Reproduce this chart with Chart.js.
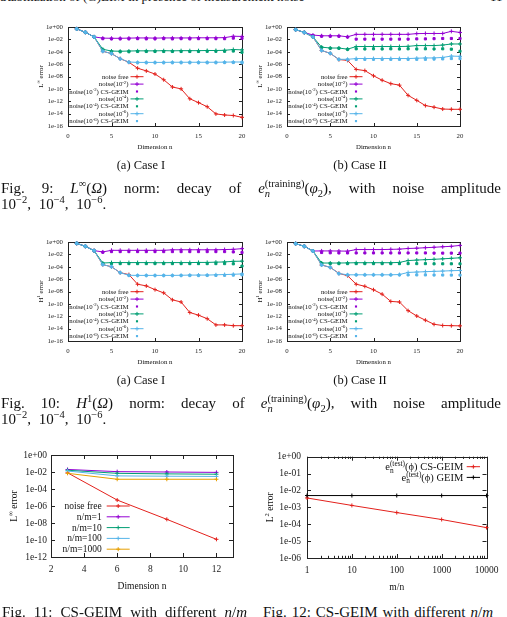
<!DOCTYPE html>
<html>
<head>
<meta charset="utf-8">
<script src="https://cdn.jsdelivr.net/npm/chart.js"></script>
<style>
html, body { margin: 0; padding: 0; background: #fff; }
body { width: 507px; height: 617px; position: relative; overflow: hidden; font-family: "Liberation Serif", serif; color: #111; }
.box { position: absolute; }
.txt { position: absolute; white-space: nowrap; line-height: 1; }
.cap { position: absolute; font-size: 15px; line-height: 15px; text-align: justify; text-align-last: justify; }
.cap2 { position: absolute; font-size: 15px; line-height: 15px; white-space: nowrap; word-spacing: 4px; }
.sub { position: absolute; font-size: 12.5px; line-height: 12.5px; width: 100px; text-align: center; }
sup { font-size: 0.7em; vertical-align: 0.55em; line-height: 0; }
sub { font-size: 0.7em; vertical-align: -0.35em; line-height: 0; }
sup.st { margin-left: -0.5em; }
</style>
</head>
<body>
<div class="txt" style="left:0; top:-10.5px; font-size:13px;">Stabilization of (G)EIM in presence of measurement noise</div>
<div class="txt" style="left:490px; top:-10.5px; font-size:13px;">11</div>

<div class="box" style="left:25px; top:17px;"><canvas id="c1" width="230" height="145"></canvas></div>
<div class="box" style="left:245px; top:17px;"><canvas id="c2" width="230" height="145"></canvas></div>
<div class="sub" style="left:91px; top:158.5px;">(a) Case I</div>
<div class="sub" style="left:310px; top:158.5px;">(b) Case II</div>
<div class="cap" style="left:1px; top:180.5px; width:500px;">Fig. 9: <i>L</i><sup>∞</sup>(<i>Ω</i>) norm: decay of <i>e</i><sub><i>n</i></sub><sup class="st">(training)</sup>(<i>φ</i><sub>2</sub>), with noise amplitude</div>
<div class="cap2" style="left:1px; top:196.5px;">10<sup>−2</sup>, 10<sup>−4</sup>, 10<sup>−6</sup>.</div>

<div class="box" style="left:25px; top:232px;"><canvas id="c3" width="230" height="145"></canvas></div>
<div class="box" style="left:245px; top:232px;"><canvas id="c4" width="230" height="145"></canvas></div>
<div class="sub" style="left:91px; top:373.5px;">(a) Case I</div>
<div class="sub" style="left:310px; top:373.5px;">(b) Case II</div>
<div class="cap" style="left:1px; top:396px; width:500px;">Fig. 10: <i>H</i><sup>1</sup>(<i>Ω</i>) norm: decay of <i>e</i><sub><i>n</i></sub><sup class="st">(training)</sup>(<i>φ</i><sub>2</sub>), with noise amplitude</div>
<div class="cap2" style="left:1px; top:412px;">10<sup>−2</sup>, 10<sup>−4</sup>, 10<sup>−6</sup>.</div>

<div class="box" style="left:0px; top:445px;"><canvas id="c5" width="245" height="155"></canvas></div>
<div class="box" style="left:255px; top:445px;"><canvas id="c6" width="250" height="155"></canvas></div>
<div class="cap" style="left:2px; top:605px; width:245px;">Fig. 11: CS-GEIM with different <i>n</i>/<i>m</i></div>
<div class="cap" style="left:263px; top:605px; width:230px;">Fig. 12: CS-GEIM with different <i>n</i>/<i>m</i></div>

<script>
// ---- data ----
const dims = [1, 2, 3, 4, 5, 6, 7, 8, 9, 10, 11, 12, 13, 14, 15, 16, 17, 18, 19, 20];
const dimTicks = [0, 5, 10, 15, 20];
const dimTickLabels = ['0', '5', '10', '15', '20'];
const errTicks = [1, 1e-2, 1e-4, 1e-6, 1e-8, 1e-10, 1e-12, 1e-14, 1e-16];
const errTickLabels = ['1e+00', '1e-02', '1e-04', '1e-06', '1e-08', '1e-10', '1e-12', '1e-14', '1e-16'];
const noiseLabels = ['noise free', 'noise(10^{-2})', 'noise(10^{-2}) CS-GEIM', 'noise(10^{-4})',
  'noise(10^{-4}) CS-GEIM', 'noise(10^{-6})', 'noise(10^{-6}) CS-GEIM'];

// Fig. 9 (a) L-inf, Case I
const linfI_free = [5e-1, 1.4e-1, 2.5e-2, 1.2e-4, 5e-5, 7.5e-6, 2e-6, 2.2e-7, 8e-8, 2.5e-8, 3e-9, 2e-10, 1e-10, 2.5e-12, 6e-13, 1.3e-13, 9e-15, 6e-15, 5e-15, 2.5e-15];
const linfI_n2 = [5e-1, 1.4e-1, 2.5e-2, 1.6e-2, 1.5e-2, 1.5e-2, 1.6e-2, 1.7e-2, 1.7e-2, 1.6e-2, 1.7e-2, 1.7e-2, 1.7e-2, 1.7e-2, 1.8e-2, 1.8e-2, 1.8e-2, 1.9e-2, 3.2e-2, 3e-2];
const linfI_n2cs = [5e-1, 1.4e-1, 2.5e-2, 1.3e-2, 1.2e-2, 1.2e-2, 1.2e-2, 1.3e-2, 1.2e-2, 1.2e-2, 1.3e-2, 1.2e-2, 1.3e-2, 1.2e-2, 1.3e-2, 1.3e-2, 1.3e-2, 1.3e-2, 1.6e-2, 1.5e-2];
const linfI_n4 = [5e-1, 1.4e-1, 2.5e-2, 2.5e-4, 1.3e-4, 1.2e-4, 1.3e-4, 1.4e-4, 1.4e-4, 1.4e-4, 1.5e-4, 1.4e-4, 1.5e-4, 1.5e-4, 1.5e-4, 1.6e-4, 1.6e-4, 1.7e-4, 2.3e-4, 2e-4];
const linfI_n4cs = [5e-1, 1.4e-1, 2.5e-2, 2e-4, 1e-4, 1e-4, 1e-4, 1.1e-4, 1.1e-4, 1.1e-4, 1.1e-4, 1.1e-4, 1.1e-4, 1.1e-4, 1.1e-4, 1.2e-4, 1.2e-4, 1.2e-4, 1.3e-4, 8e-5];
const linfI_n6 = [5e-1, 1.4e-1, 2.5e-2, 1.2e-4, 5e-5, 7.5e-6, 2.2e-6, 1.9e-6, 1.9e-6, 1.9e-6, 1.9e-6, 2e-6, 2e-6, 2e-6, 2e-6, 2e-6, 2e-6, 2.1e-6, 2.2e-6, 2.2e-6];
const linfI_n6cs = [5e-1, 1.4e-1, 2.5e-2, 1.2e-4, 5e-5, 7e-6, 2e-6, 1.7e-6, 1.7e-6, 1.7e-6, 1.7e-6, 1.7e-6, 1.7e-6, 1.7e-6, 1.7e-6, 1.7e-6, 1.7e-6, 1.8e-6, 1.8e-6, 1.6e-6];

// Fig. 9 (b) L-inf, Case II
const linfII_free = [3.8e-1, 1.3e-1, 2.5e-2, 1.6e-4, 5.5e-5, 5.5e-6, 4e-6, 1.4e-7, 9e-8, 1.3e-8, 2.5e-9, 7e-10, 4e-10, 9e-12, 1.4e-12, 2e-13, 1.1e-13, 5.5e-14, 5e-14, 5e-14];
const linfII_n2 = [3.8e-1, 1.3e-1, 5e-2, 3.8e-2, 3.8e-2, 3.8e-2, 2.6e-2, 6.5e-2, 6.5e-2, 6.5e-2, 6.5e-2, 6.5e-2, 6.5e-2, 6.5e-2, 8.5e-2, 9e-2, 9e-2, 9e-2, 2e-1, 1.3e-1];
const linfII_n2cs = [3.8e-1, 1.3e-1, 4e-2, 3.2e-2, 3.2e-2, 3.2e-2, 2.4e-2, 1.1e-2, 1.1e-2, 1.1e-2, 1.1e-2, 1.1e-2, 1.1e-2, 1.1e-2, 1.2e-2, 1.2e-2, 1.3e-2, 1.4e-2, 1.4e-2, 1.4e-2];
const linfII_n4 = [3.8e-1, 1.3e-1, 2.5e-2, 5.5e-4, 4e-4, 4e-4, 2.6e-4, 7e-4, 7e-4, 7e-4, 7e-4, 7e-4, 7e-4, 7.5e-4, 1e-3, 1e-3, 1e-3, 1.2e-3, 1.8e-3, 1.8e-3];
const linfII_n4cs = [3.8e-1, 1.3e-1, 2.5e-2, 5e-4, 3.6e-4, 3.6e-4, 2.4e-4, 3e-4, 2.8e-4, 3e-4, 2.8e-4, 3e-4, 2.8e-4, 3e-4, 2.8e-4, 3e-4, 2.8e-4, 3e-4, 2.6e-4, 1.2e-4];
const linfII_n6 = [3.8e-1, 1.3e-1, 2.5e-2, 1.6e-4, 5.5e-5, 6e-6, 6e-6, 8e-6, 8e-6, 8e-6, 8e-6, 8e-6, 8e-6, 8e-6, 9e-6, 1e-5, 1e-5, 1.2e-5, 2e-5, 1.8e-5];
const linfII_n6cs = [3.8e-1, 1.3e-1, 2.5e-2, 1.6e-4, 5.5e-5, 5.5e-6, 5e-6, 6e-6, 6e-6, 6e-6, 6e-6, 6e-6, 6e-6, 6e-6, 6e-6, 6e-6, 6.5e-6, 7e-6, 8e-6, 8e-6];

// Fig. 10 (a) H1, Case I
const h1I_free = [6e-1, 2e-1, 4e-2, 2.2e-4, 1e-4, 1.1e-5, 5.4e-6, 1.5e-7, 8e-8, 2e-8, 6e-9, 4.5e-10, 2e-10, 4e-12, 1.5e-12, 4e-13, 4e-14, 4e-14, 3e-14, 3e-14];
const h1I_n2 = [6e-1, 2e-1, 4e-2, 2.5e-2, 4.5e-2, 4.5e-2, 4.5e-2, 4.5e-2, 4.5e-2, 4.5e-2, 4.5e-2, 5.5e-2, 5.5e-2, 5.5e-2, 5.5e-2, 5.5e-2, 5.5e-2, 6e-2, 6.5e-2, 8.5e-2];
const h1I_n2cs = [6e-1, 2e-1, 4e-2, 2.2e-2, 2.8e-2, 2.8e-2, 2.8e-2, 2.8e-2, 2.8e-2, 2.8e-2, 2.8e-2, 2.8e-2, 2.8e-2, 2.8e-2, 2.8e-2, 2.8e-2, 2.8e-2, 2.8e-2, 2.5e-2, 2e-2];
const h1I_n4 = [6e-1, 2e-1, 4e-2, 4e-4, 4.7e-4, 4.7e-4, 4.7e-4, 4.7e-4, 4.7e-4, 4.5e-4, 4.5e-4, 4.7e-4, 4.7e-4, 4.7e-4, 5e-4, 5e-4, 5.5e-4, 6e-4, 7.5e-4, 8e-4];
const h1I_n4cs = [6e-1, 2e-1, 4e-2, 3e-4, 3.2e-4, 3.2e-4, 3.2e-4, 3.2e-4, 3.2e-4, 3.2e-4, 3.2e-4, 3.2e-4, 3.2e-4, 3.2e-4, 3.2e-4, 3.2e-4, 3.2e-4, 3.2e-4, 3e-4, 1.3e-4];
const h1I_n6 = [6e-1, 2e-1, 4e-2, 2.2e-4, 1e-4, 1.1e-5, 4.2e-6, 4e-6, 4e-6, 4e-6, 4e-6, 4e-6, 4.2e-6, 4.5e-6, 4.5e-6, 4.5e-6, 5e-6, 5.5e-6, 6e-6, 7e-6];
const h1I_n6cs = [6e-1, 2e-1, 4e-2, 2.2e-4, 1e-4, 1.1e-5, 4e-6, 3.8e-6, 3.8e-6, 3.8e-6, 3.8e-6, 3.8e-6, 3.8e-6, 3.8e-6, 3.8e-6, 4e-6, 4e-6, 4.2e-6, 4.5e-6, 5e-6];

// Fig. 10 (b) H1, Case II
const h1II_free = [5.5e-1, 2e-1, 3.5e-2, 1.9e-4, 8e-5, 8.5e-6, 3.6e-6, 1.5e-7, 7e-8, 1.9e-8, 3.7e-9, 2.5e-10, 2e-10, 8e-12, 1.1e-12, 2.3e-13, 5e-14, 3.2e-14, 3e-14, 2.8e-14];
const h1II_n2 = [5.5e-1, 2e-1, 3.5e-2, 3.6e-2, 3.6e-2, 3.5e-2, 3.3e-2, 6e-2, 6e-2, 6e-2, 6e-2, 6.5e-2, 7e-2, 9e-2, 1e-1, 1.2e-1, 1.4e-1, 1.7e-1, 2e-1, 2.8e-1];
const h1II_n2cs = [5.5e-1, 2e-1, 3.5e-2, 2e-2, 1.8e-2, 1.7e-2, 1.7e-2, 1.7e-2, 1.7e-2, 1.7e-2, 1.7e-2, 1.7e-2, 1.7e-2, 1.7e-2, 1.7e-2, 1.7e-2, 1.6e-2, 1.6e-2, 1.6e-2, 1.6e-2];
const h1II_n4 = [5.5e-1, 2e-1, 3.5e-2, 4e-4, 4e-4, 4e-4, 4.2e-4, 4.5e-4, 4.5e-4, 4.5e-4, 4.5e-4, 4.5e-4, 5e-4, 1e-3, 1.2e-3, 1.4e-3, 1.6e-3, 1.9e-3, 2.3e-3, 2.8e-3];
const h1II_n4cs = [5.5e-1, 2e-1, 3.5e-2, 3.5e-4, 3.2e-4, 3.2e-4, 3.2e-4, 3.2e-4, 3.2e-4, 3.2e-4, 3.2e-4, 3.2e-4, 3.2e-4, 3.2e-4, 3.2e-4, 3.2e-4, 3e-4, 3e-4, 3e-4, 3e-4];
const h1II_n6 = [5.5e-1, 2e-1, 3.5e-2, 1.9e-4, 8e-5, 8e-6, 5e-6, 5e-6, 5e-6, 5e-6, 5e-6, 5e-6, 5.5e-6, 1.2e-5, 1.4e-5, 1.6e-5, 1.8e-5, 2e-5, 2.3e-5, 2.5e-5];
const h1II_n6cs = [5.5e-1, 2e-1, 3.5e-2, 1.9e-4, 8e-5, 7.5e-6, 4.8e-6, 4.8e-6, 4.8e-6, 4.8e-6, 4.8e-6, 4.8e-6, 4.8e-6, 4.8e-6, 4.8e-6, 4.8e-6, 4.6e-6, 4.6e-6, 4.5e-6, 4.5e-6];

// Fig. 11: CS-GEIM for several n/m
const nmDims = [3, 6, 9, 12];
const nmDimTicks = [2, 4, 6, 8, 10, 12];
const nmDimTickLabels = ['2', '4', '6', '8', '10', '12'];
const nmErrTicks = [1, 1e-2, 1e-4, 1e-6, 1e-8, 1e-10, 1e-12];
const nmErrTickLabels = ['1e+00', '1e-02', '1e-04', '1e-06', '1e-08', '1e-10', '1e-12'];
const nmLabels = ['noise free', 'n/m=1', 'n/m=10', 'n/m=100', 'n/m=1000'];
const nmFree = [8e-3, 5e-6, 2.7e-8, 1.2e-10];
const nm1 = [2e-2, 1.1e-2, 1e-2, 9e-3];
const nm10 = [1.6e-2, 7e-3, 6e-3, 5.5e-3];
const nm100 = [1.3e-2, 3.5e-3, 3.2e-3, 3e-3];
const nm1000 = [7e-3, 1.4e-3, 1.4e-3, 1.4e-3];

// Fig. 12: test error against m/n
const mnRatio = [1, 10, 100, 1000, 10000];
const mnTickLabels = ['1', '10', '100', '1000', '10000'];
const l2Ticks = [1, 1e-1, 1e-2, 1e-3, 1e-4, 1e-5, 1e-6];
const l2TickLabels = ['1e+00', '1e-01', '1e-02', '1e-03', '1e-04', '1e-05', '1e-06'];
const mnLabels = ['e_{n}^{(test)}(ϕ) CS-GEIM', 'e_{n}^{(test)}(ϕ) GEIM'];
const mnCsgeim = [3.6e-3, 1.3e-3, 4.9e-4, 1.9e-4, 6.3e-5];
const mnGeim = [5e-3, 5e-3, 5e-3, 5e-3, 5e-3];

const RED = '#e3211c';
const PURPLE = '#9400d3';
const GREEN = '#009e73';
const SKY = '#56b4e9';
const ORANGE = '#e69f00';
const FONT = '"Liberation Serif", serif';

Chart.defaults.font.family = FONT;

// minor ticks between decades on the m/n axis
const mnMinor = [];
mnRatio.slice(0, -1).forEach(d => { for (let k = 2; k <= 9; k++) mnMinor.push(d * k); });
const mnAllTicks = mnRatio.concat(mnMinor).sort((a, b) => a - b);
const mnAllLabels = mnAllTicks.map(v => mnRatio.includes(v) ? mnTickLabels[mnRatio.indexOf(v)] : '');

// text with ^{..} and _{..} pieces
function richParts(s) {
    const out = [];
    let buf = '', i = 0;
    while (i < s.length) {
        const c = s[i];
        if ((c === '^' || c === '_') && s[i + 1] === '{') {
            if (buf) { out.push({ t: buf, k: 'n' }); buf = ''; }
            const j = s.indexOf('}', i);
            out.push({ t: s.slice(i + 2, j), k: c === '^' ? 'sup' : 'sub' });
            i = j + 1;
        } else {
            buf += c;
            i++;
        }
    }
    if (buf) out.push({ t: buf, k: 'n' });
    return out;
}

function drawRich(ctx, s, x, y, size, align) {
    const items = [];
    let w = 0, prevKind = null, prevX = 0, prevW = 0;
    richParts(s).forEach(p => {
        const sz = p.k === 'n' ? size : size * 0.7;
        ctx.font = sz + 'px ' + FONT;
        const pw = ctx.measureText(p.t).width;
        let px = w;
        if (p.k !== 'n' && prevKind && prevKind !== p.k) {
            px = prevX;
            w = prevX + Math.max(prevW, pw);
            prevKind = null;
        } else {
            w += pw;
            prevKind = p.k !== 'n' ? p.k : null;
            prevX = px;
            prevW = pw;
        }
        items.push({ p, sz, px });
    });
    const x0 = align === 'right' ? x - w : align === 'center' ? x - w / 2 : x;
    ctx.textAlign = 'left';
    ctx.textBaseline = 'alphabetic';
    items.forEach(it => {
        const dy = it.p.k === 'sup' ? -0.4 * size : it.p.k === 'sub' ? 0.25 * size : 0;
        ctx.font = it.sz + 'px ' + FONT;
        ctx.fillText(it.p.t, x0 + it.px, y + dy);
    });
}

function drawMarker(ctx, style, x, y, r, color) {
    ctx.strokeStyle = color;
    ctx.fillStyle = color;
    ctx.lineWidth = 1;
    if (style === 'rect') {
        const h = r * Math.SQRT1_2;
        ctx.fillRect(x - h, y - h, 2 * h, 2 * h);
        return;
    }
    ctx.beginPath();
    ctx.moveTo(x - r, y); ctx.lineTo(x + r, y);
    ctx.moveTo(x, y - r); ctx.lineTo(x, y + r);
    ctx.stroke();
}

// frame, inward tick marks, axis titles and the key
const decor = {
    id: 'decor',
    beforeDatasetsDraw(chart) {
        const o = chart.options.plugins.decor;
        const ctx = chart.ctx, a = chart.chartArea;
        const xs = chart.scales.x, ys = chart.scales.y;
        ctx.save();
        ctx.strokeStyle = '#222';
        ctx.lineWidth = 1;
        ctx.beginPath();
        xs.ticks.forEach(t => {
            const px = Math.round(xs.getPixelForValue(t.value)) + 0.5;
            const len = t.minor ? o.tick * 0.55 : o.tick;
            ctx.moveTo(px, a.bottom); ctx.lineTo(px, a.bottom - len);
            ctx.moveTo(px, a.top); ctx.lineTo(px, a.top + len);
        });
        ys.ticks.forEach(t => {
            const py = Math.round(ys.getPixelForValue(t.value)) + 0.5;
            ctx.moveTo(a.left, py); ctx.lineTo(a.left + o.tick, py);
            ctx.moveTo(a.right, py); ctx.lineTo(a.right - o.tick, py);
        });
        ctx.stroke();
        ctx.strokeRect(Math.round(a.left) + 0.5, Math.round(a.top) + 0.5,
            Math.round(a.right - a.left), Math.round(a.bottom - a.top));
        ctx.restore();
    },
    afterDraw(chart) {
        const o = chart.options.plugins.decor;
        const ctx = chart.ctx, a = chart.chartArea;
        ctx.save();
        ctx.fillStyle = '#111';
        drawRich(ctx, o.xTitle, (a.left + a.right) / 2, a.bottom + o.xTitleDy + o.font * 0.32, o.font, 'center');
        ctx.save();
        ctx.translate(a.left + o.yTitleDx, (a.top + a.bottom) / 2);
        ctx.rotate(-Math.PI / 2);
        drawRich(ctx, o.yTitle, 0, o.font * 0.32, o.font, 'center');
        ctx.restore();
        const lg = o.legend;
        const lf = lg.font || o.font;
        chart.data.datasets.forEach((ds, i) => {
            const y = a.top + lg.dy + i * lg.step;
            const xr = a.left + lg.dx;
            ctx.fillStyle = '#111';
            drawRich(ctx, ds.label, xr, y + lf * 0.32, lf, 'right');
            const x1 = xr + lg.gap, x2 = x1 + lg.len;
            if (ds.showLine) {
                ctx.strokeStyle = ds.borderColor;
                ctx.lineWidth = 1;
                ctx.beginPath();
                ctx.moveTo(x1, y);
                ctx.lineTo(x2, y);
                ctx.stroke();
            }
            drawMarker(ctx, ds.pointStyle, (x1 + x2) / 2, y, ds.pointRadius, ds.borderColor);
        });
        ctx.restore();
    }
};

function series(label, xs, ys, color, withLine, marker, idx) {
    return {
        label: label,
        data: xs.map((x, i) => ({ x: x, y: ys[i] })),
        borderColor: color,
        backgroundColor: color,
        borderWidth: 1,
        showLine: withLine,
        pointStyle: marker,
        pointRadius: withLine ? 2 : 1.5,
        pointBorderWidth: 1,
        pointHoverRadius: 0,
        tension: 0,
        fill: false,
        clip: false,
        order: 20 - idx
    };
}

function plot(id, o) {
    return new Chart(document.getElementById(id), {
        type: 'line',
        data: { datasets: o.datasets },
        options: {
            responsive: false,
            animation: false,
            events: [],
            layout: { padding: { top: o.pad[0], right: o.pad[1], bottom: 0, left: 0 } },
            scales: {
                x: {
                    type: o.xType, min: o.xMin, max: o.xMax,
                    grid: { display: false, drawTicks: false },
                    border: { display: false },
                    afterBuildTicks: s => { s.ticks = o.xTicks.map((v, i) => ({ value: v, minor: o.xLabels[i] === '' })); },
                    afterFit: s => { s.height = o.xH; },
                    ticks: {
                        autoSkip: false, maxRotation: 0, padding: o.xPad, color: '#222',
                        font: { size: o.font },
                        callback: v => o.xLabels[o.xTicks.indexOf(v)]
                    }
                },
                y: {
                    type: 'logarithmic', min: o.yMin, max: o.yMax,
                    grid: { display: false, drawTicks: false },
                    border: { display: false },
                    afterBuildTicks: s => { s.ticks = o.yTicks.map(v => ({ value: v })); },
                    afterFit: s => { s.width = o.yW; },
                    ticks: {
                        autoSkip: false, padding: o.yPad, color: '#222',
                        font: { size: o.font },
                        callback: v => o.yLabels[o.yTicks.indexOf(v)]
                    }
                }
            },
            plugins: {
                legend: { display: false },
                tooltip: { enabled: false },
                decor: {
                    tick: o.tick, font: o.font,
                    xTitle: o.xTitle, xTitleDy: o.xTitleDy,
                    yTitle: o.yTitle, yTitleDx: o.yTitleDx,
                    legend: o.legend
                }
            }
        },
        plugins: [decor]
    });
}

function noisePlot(id, yTitle, yW, padRight, sets) {
    const colors = [RED, PURPLE, PURPLE, GREEN, GREEN, SKY, SKY];
    const datasets = sets.map((vals, i) => {
        const dotsOnly = i > 0 && i % 2 === 0;
        return series(noiseLabels[i], dims, vals, colors[i], !dotsOnly, dotsOnly ? 'rect' : 'cross', i);
    });
    return plot(id, {
        datasets: datasets,
        pad: [10, padRight],
        xType: 'linear', xMin: 0, xMax: 20, xTicks: dimTicks, xLabels: dimTickLabels, xH: 36, xPad: 6.6,
        yMin: 1e-16, yMax: 1, yTicks: errTicks, yLabels: errTickLabels, yW: yW, yPad: 5,
        font: 6.8, tick: 3,
        xTitle: 'Dimension n', xTitleDy: 20.7,
        yTitle: yTitle, yTitleDx: -27.5,
        legend: { dx: 60.5, dy: 49.7, step: 7.4, gap: 2, len: 13 }
    });
}

noisePlot('c1', 'L^{∞} error', 43, 13, [linfI_free, linfI_n2, linfI_n2cs, linfI_n4, linfI_n4cs, linfI_n6, linfI_n6cs]);
noisePlot('c2', 'L^{∞} error', 42, 15, [linfII_free, linfII_n2, linfII_n2cs, linfII_n4, linfII_n4cs, linfII_n6, linfII_n6cs]);
noisePlot('c3', 'H^{1} error', 43, 13, [h1I_free, h1I_n2, h1I_n2cs, h1I_n4, h1I_n4cs, h1I_n6, h1I_n6cs]);
noisePlot('c4', 'H^{1} error', 42, 15, [h1II_free, h1II_n2, h1II_n2cs, h1II_n4, h1II_n4cs, h1II_n6, h1II_n6cs]);

plot('c5', {
    datasets: [
        series(nmLabels[0], nmDims, nmFree, RED, true, 'cross', 0),
        series(nmLabels[1], nmDims, nm1, PURPLE, true, 'cross', 1),
        series(nmLabels[2], nmDims, nm10, GREEN, true, 'cross', 2),
        series(nmLabels[3], nmDims, nm100, SKY, true, 'cross', 3),
        series(nmLabels[4], nmDims, nm1000, ORANGE, true, 'cross', 4)
    ],
    pad: [10, 12],
    xType: 'linear', xMin: 2, xMax: 13, xTicks: nmDimTicks, xLabels: nmDimTickLabels, xH: 43, xPad: 6.6,
    yMin: 1e-12, yMax: 1, yTicks: nmErrTicks, yLabels: nmErrTickLabels, yW: 51, yPad: 4,
    font: 9.5, tick: 4,
    xTitle: 'Dimension n', xTitleDy: 29,
    yTitle: 'L^{∞} error', yTitleDx: -37,
    legend: { dx: 50.7, dy: 51, step: 10.8, gap: 5, len: 23 }
});

plot('c6', {
    datasets: [
        series(mnLabels[0], mnRatio, mnCsgeim, RED, true, 'cross', 0),
        series(mnLabels[1], mnRatio, mnGeim, '#000000', true, 'cross', 1)
    ],
    pad: [11, 17],
    xType: 'logarithmic', xMin: 1, xMax: 10000, xTicks: mnAllTicks, xLabels: mnAllLabels, xH: 42, xPad: 6.6,
    yMin: 1e-6, yMax: 1, yTicks: l2Ticks, yLabels: l2TickLabels, yW: 52, yPad: 6,
    font: 9.5, tick: 4,
    xTitle: 'm/n', xTitleDy: 28.7,
    yTitle: 'L^{2} error', yTitleDx: -37,
    legend: { dx: 156.3, dy: 10, step: 10.7, gap: 3.4, len: 13.3, font: 10.5 }
});
</script>
</body>
</html>
